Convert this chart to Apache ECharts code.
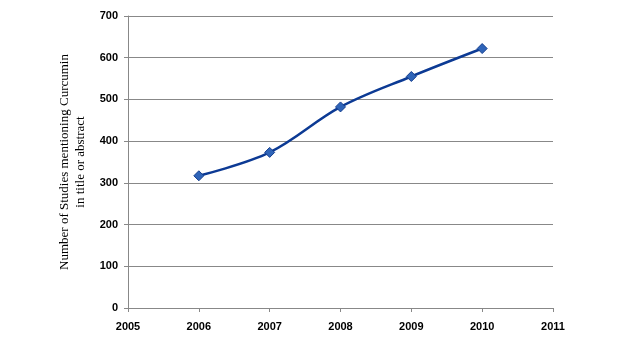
<!DOCTYPE html>
<html><head><meta charset="utf-8">
<script src="https://cdn.jsdelivr.net/npm/echarts@6/dist/echarts.min.js"></script>
<style>html,body{margin:0;padding:0;background:#fff}#c{width:620px;height:349px}</style>
</head><body><div id="c"></div>
<script>
const years = [2006, 2007, 2008, 2009, 2010];
const studies = [317, 373, 482, 555, 622];
const yTitle = 'Number of Studies mentioning Curcumin\nin title or abstract';

const chart = echarts.init(document.getElementById('c'), null, {renderer: 'canvas'});
chart.setOption({
  animation: false,
  backgroundColor: '#fff',
  grid: {left: 128, right: 67, top: 16, bottom: 41},
  xAxis: {
    type: 'value', min: 2005, max: 2011, interval: 1,
    axisLine: {show: true, lineStyle: {color: '#888', width: 1}},
    axisTick: {show: true, length: 4, lineStyle: {color: '#888'}},
    splitLine: {show: false},
    axisLabel: {color: '#000', fontFamily: 'Liberation Sans', fontWeight: 'bold', fontSize: 11, margin: 13,
      formatter: v => String(v)}
  },
  yAxis: {
    type: 'value', min: 0, max: 700, interval: 100,
    name: yTitle, nameLocation: 'middle', nameGap: 37,
    nameTextStyle: {color: '#000', fontFamily: 'Liberation Serif', fontSize: 13, lineHeight: 16},
    axisLine: {show: true, lineStyle: {color: '#888', width: 1}},
    axisTick: {show: true, length: 4, lineStyle: {color: '#888'}},
    splitLine: {show: true, lineStyle: {color: '#888', width: 1}},
    axisLabel: {color: '#000', fontFamily: 'Liberation Sans', fontWeight: 'bold', fontSize: 11, margin: 10}
  },
  series: [{
    type: 'line',
    data: years.map((y, i) => [y, studies[i]]),
    smooth: 0.35,
    symbol: 'diamond', symbolSize: 10,
    lineStyle: {color: '#0c3a94', width: 2.5},
    itemStyle: {color: '#2f64b8', borderColor: '#163f8f', borderWidth: 1}
  }]
});
</script></body></html>
